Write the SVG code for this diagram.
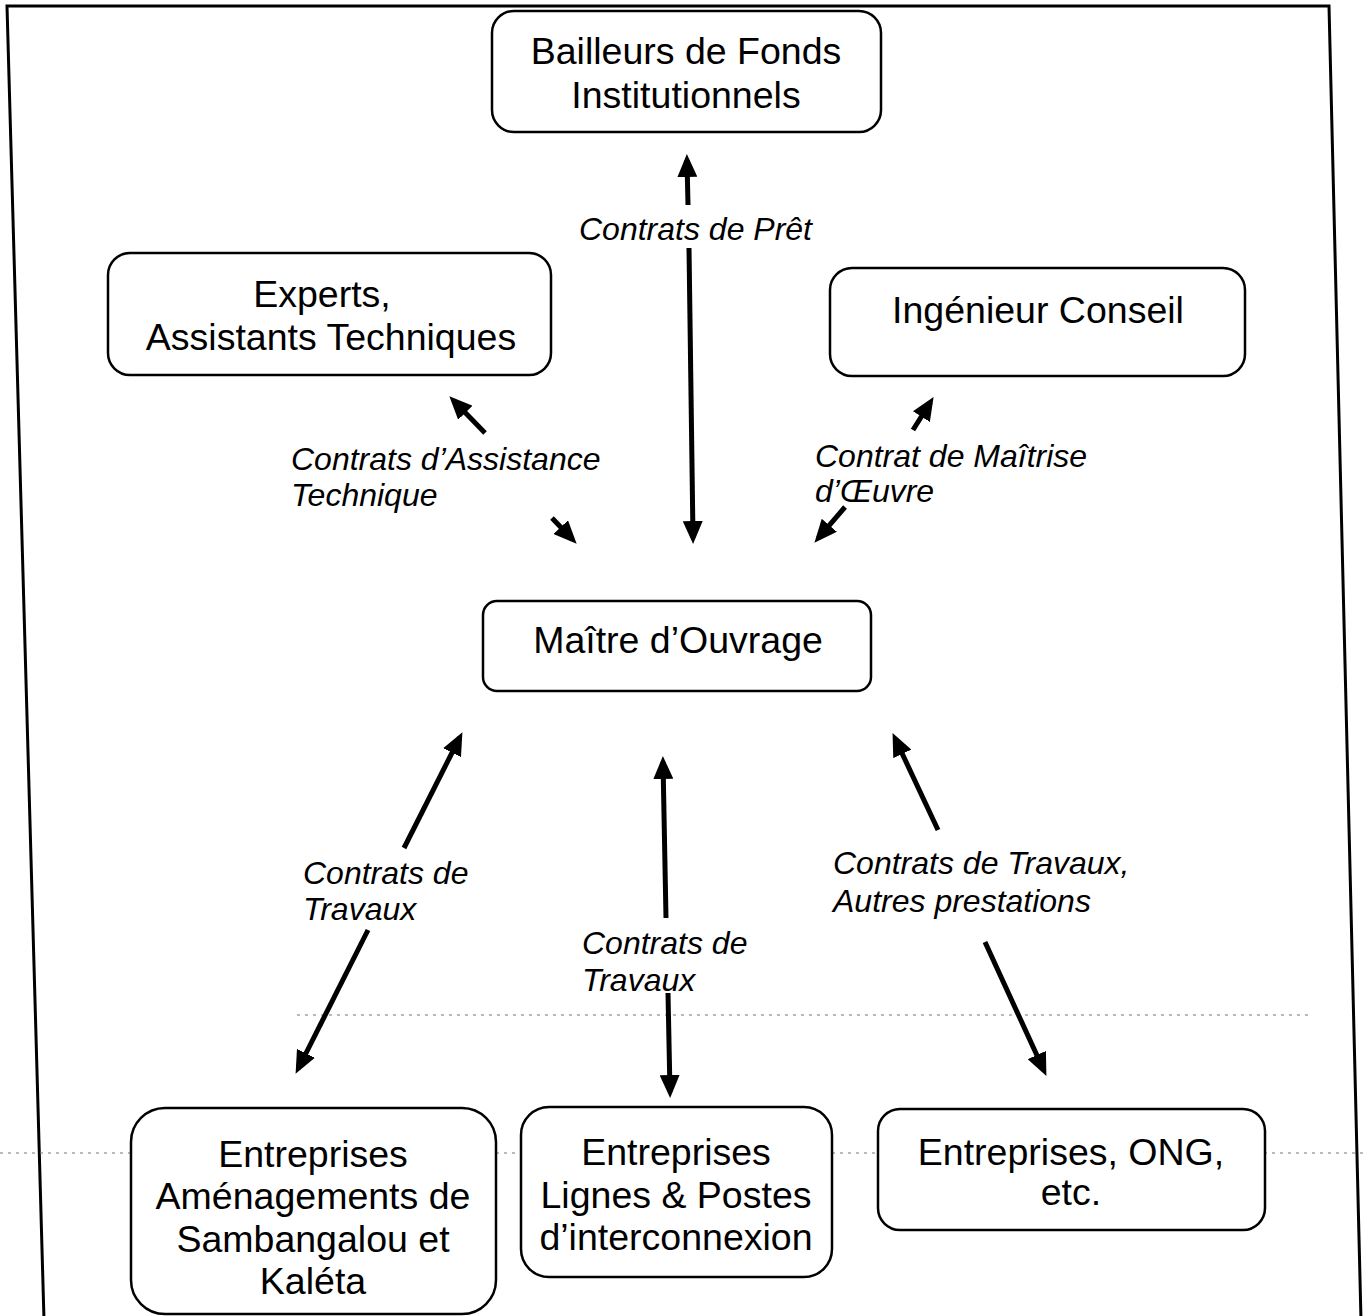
<svg xmlns="http://www.w3.org/2000/svg" width="1364" height="1316" viewBox="0 0 1364 1316">
  <defs>
    <marker id="head" markerUnits="userSpaceOnUse" markerWidth="24" markerHeight="20" viewBox="0 0 24 20" refX="17" refY="10" orient="auto">
      <path d="M0,0 L23,10 L0,20 Z" fill="#000"/>
    </marker>
    <style>
      .box { fill: #fff; stroke: #000; stroke-width: 2.5; }
      .node { font-family: "Liberation Sans", Arial, sans-serif; font-size: 37.5px; fill: #000; text-anchor: middle; }
      .lbl { font-family: "Liberation Sans", Arial, sans-serif; font-size: 32px; font-style: italic; fill: #000; }
      .arr { stroke: #000; stroke-width: 5; fill: none; marker-end: url(#head); }
      .frame { fill: none; stroke: #000; stroke-width: 3; }
      .dots { stroke: #777; stroke-width: 1; stroke-dasharray: 3 5; fill: none; }
    </style>
  </defs>

  <rect width="1364" height="1316" fill="#fff"/>

  <!-- page frame -->
  <path class="frame" d="M44,1320 L7,6 L1329,6 L1361,1320"/>
  <!-- faint dotted rules -->
  <path class="dots" d="M297,1015 L1310,1015"/>
  <path class="dots" d="M0,1153 L1364,1153"/>

  <!-- connectors -->
  <g id="connectors">
    <line class="arr" x1="688" y1="205" x2="687" y2="160"/>
    <line class="arr" x1="689" y1="248" x2="693" y2="538"/>
    <line class="arr" x1="485" y1="433" x2="453.5" y2="400.6"/>
    <line class="arr" x1="552" y1="518" x2="572.5" y2="539.4"/>
    <line class="arr" x1="913" y1="430" x2="930.4" y2="402.2"/>
    <line class="arr" x1="845" y1="507" x2="818.3" y2="538.2"/>
    <line class="arr" x1="404" y1="848" x2="459.7" y2="737.5"/>
    <line class="arr" x1="368" y1="930" x2="298.3" y2="1068.5"/>
    <line class="arr" x1="666" y1="918" x2="663" y2="762"/>
    <line class="arr" x1="668" y1="993" x2="670" y2="1092"/>
    <line class="arr" x1="938" y1="830" x2="895.1" y2="738.5"/>
    <line class="arr" x1="985" y1="942" x2="1043.9" y2="1070.5"/>

    <text class="lbl" x="579" y="240">Contrats de Prêt</text>
    <text class="lbl" x="291" y="470">Contrats d’Assistance</text>
    <text class="lbl" x="291" y="506">Technique</text>
    <text class="lbl" x="815" y="467">Contrat de Maîtrise</text>
    <text class="lbl" x="815" y="502">d’Œuvre</text>
    <text class="lbl" x="303" y="884">Contrats de</text>
    <text class="lbl" x="303" y="920">Travaux</text>
    <text class="lbl" x="582" y="954">Contrats de</text>
    <text class="lbl" x="582" y="991">Travaux</text>
    <text class="lbl" x="833" y="874">Contrats de Travaux,</text>
    <text class="lbl" x="833" y="912">Autres prestations</text>
  </g>

  <g id="bailleurs">
    <rect class="box" x="492" y="11" width="389" height="121" rx="22"/>
    <text class="node" x="686" y="64">Bailleurs de Fonds</text>
    <text class="node" x="686" y="108">Institutionnels</text>
  </g>

  <g id="experts">
    <rect class="box" x="108" y="253" width="443" height="122" rx="22"/>
    <text class="node" x="322" y="307">Experts,</text>
    <text class="node" x="331" y="350">Assistants Techniques</text>
  </g>

  <g id="ingenieur">
    <rect class="box" x="830" y="268" width="415" height="108" rx="22"/>
    <text class="node" x="1038" y="323">Ingénieur Conseil</text>
  </g>

  <g id="maitre">
    <rect class="box" x="483" y="601" width="388" height="90" rx="14"/>
    <text class="node" x="678" y="653">Maître d’Ouvrage</text>
  </g>

  <g id="amenagements">
    <rect class="box" x="131" y="1108" width="365" height="206" rx="34"/>
    <text class="node" x="313" y="1167">Entreprises</text>
    <text class="node" x="313" y="1209">Aménagements de</text>
    <text class="node" x="313" y="1252">Sambangalou et</text>
    <text class="node" x="313" y="1294">Kaléta</text>
  </g>

  <g id="lignes">
    <rect class="box" x="521" y="1107" width="311" height="170" rx="28"/>
    <text class="node" x="676" y="1165">Entreprises</text>
    <text class="node" x="676" y="1208">Lignes &amp; Postes</text>
    <text class="node" x="676" y="1250">d’interconnexion</text>
  </g>

  <g id="ong">
    <rect class="box" x="878" y="1109" width="387" height="121" rx="22"/>
    <text class="node" x="1071" y="1165">Entreprises, ONG,</text>
    <text class="node" x="1071" y="1205">etc.</text>
  </g>
</svg>
